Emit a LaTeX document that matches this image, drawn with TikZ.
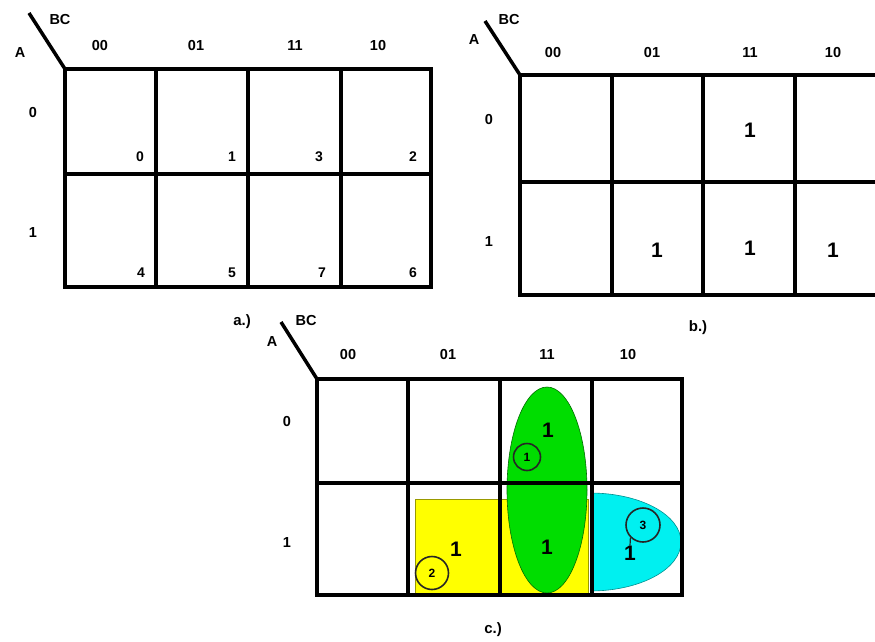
\documentclass[tikz,border=0pt]{standalone}
\usepackage{fontspec}
\setmainfont{Liberation Sans}
\definecolor{kgreen}{RGB}{0,221,0}
\definecolor{kyellow}{RGB}{255,255,0}
\definecolor{kcyan}{RGB}{0,240,240}
\begin{document}
\begin{tikzpicture}[x=1pt, y=-1pt,
  kline/.style={line width=4.5pt},
  kdiag/.style={line width=3.5pt},
  klab/.style={font=\bfseries\fontsize{14.5}{14.5}\selectfont, inner sep=0pt},
  kidx/.style={font=\bfseries\fontsize{14}{14}\selectfont, inner sep=0pt},
  kone/.style={font=\bfseries\fontsize{21}{21}\selectfont, inner sep=0pt},
  kcap/.style={font=\bfseries\fontsize{15}{15}\selectfont, inner sep=0pt},
  kcirc/.style={circle, draw=black!85, line width=1.6pt, inner sep=0pt,
    font=\bfseries\fontsize{12}{12}\selectfont}]
  \useasboundingbox (0,0) rectangle (875,642);
  \clip (0,0) rectangle (875,642);

  % Map a: cell numbers
  \coordinate (aC) at (65,69);
  \draw[kdiag] (29,13) -- (aC);
  \draw[kline] (aC) rectangle (431,287);
  \foreach \x in {156,248,341} \draw[kline] (\x,69) -- (\x,287);
  \draw[kline] (65,174) -- (431,174);
  \node[klab] (aBC) at (60,20) {BC};
  \node[klab] (aA) at (20,53) {A};
  \foreach \x/\t in {100/00,196/01,295/11,378/10}
    \node[klab] (a\t) at (\x,46) {\t};
  \node[klab] (ar0) at (33,113) {0};
  \node[klab] (ar1) at (33,233) {1};
  \foreach \x/\t in {140/0,232/1,319/3,413/2}
    \node[kidx] (am\t) at (\x,157) {\t};
  \foreach \x/\t in {141/4,232/5,322/7,413/6}
    \node[kidx] (am\t) at (\x,273) {\t};
  \node[kcap] (capa) at (242,322) {a.)};

  % Map b: ones
  \coordinate (bC) at (520,75);
  \draw[kdiag] (485,21) -- (bC);
  \draw[kline] (bC) rectangle (887,295);
  \foreach \x in {612,703,795} \draw[kline] (\x,75) -- (\x,295);
  \draw[kline] (520,182) -- (887,182);
  \node[klab] (bBC) at (509,20) {BC};
  \node[klab] (bA) at (474,40) {A};
  \foreach \x/\t in {553/00,652/01,750/11,833/10}
    \node[klab] (b\t) at (\x,53) {\t};
  \node[klab] (br0) at (489,120) {0};
  \node[klab] (br1) at (489,242) {1};
  \node[kone] (bone3) at (750,130) {1};
  \node[kone] (bone5) at (657,250) {1};
  \node[kone] (bone7) at (750,248) {1};
  \node[kone] (bone6) at (833,250) {1};
  \node[kcap] (capb) at (698,328) {b.)};

  % Map c: groups
  \fill[kyellow, draw=black!40!kyellow, line width=0.8pt] (415,499) rectangle (588,593);
  \filldraw[fill=kgreen, draw=black!50!kgreen, line width=0.6pt]
    (547,490) ellipse [x radius=40pt, y radius=103pt];
  \begin{scope}
    \clip (590,480) rectangle (700,600);
    \filldraw[fill=kcyan, draw=black!40!kcyan, line width=0.6pt]
      (590,542) ellipse [x radius=91pt, y radius=49pt];
  \end{scope}
  \coordinate (cC) at (317,379);
  \draw[kdiag] (281,322) -- (cC);
  \draw[kline] (cC) rectangle (682,595);
  \foreach \x in {408,500,592} \draw[kline] (\x,379) -- (\x,595);
  \draw[kline] (317,483) -- (682,483);
  \node[klab] (cBC) at (306,321) {BC};
  \node[klab] (cA) at (272,342) {A};
  \foreach \x/\t in {348/00,448/01,547/11,628/10}
    \node[klab] (c\t) at (\x,355) {\t};
  \node[klab] (cr0) at (287,422) {0};
  \node[klab] (cr1) at (287,543) {1};
  \node[kone] (cone3) at (548,430) {1};
  \node[kone] (cone7) at (547,547) {1};
  \node[kone] (cone5) at (456,549) {1};
  \node[kone] (cone6) at (630,553) {1};
  \node[kcirc, minimum size=27pt] (g1) at (527,457) {1};
  \node[kcirc, minimum size=33pt] (g2) at (432,573) {2};
  \node[kcirc, minimum size=34pt] (g3) at (643,525) {3};
  \draw[line width=1.2pt, black!85] (g3.225) -- (cone6.north);
  \node[kcap] (capc) at (493,630) {c.)};
\end{tikzpicture}
\end{document}
